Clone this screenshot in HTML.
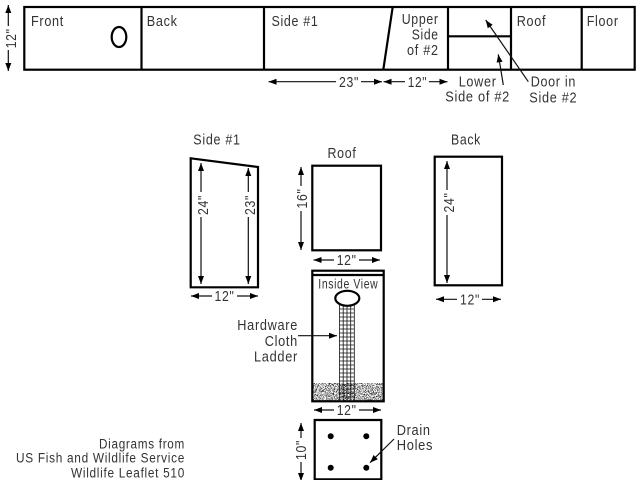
<!DOCTYPE html>
<html><head><meta charset="utf-8"><style>
html,body{margin:0;padding:0;background:#fff;width:640px;height:480px;overflow:hidden}
svg{display:block;filter:blur(.3px)}
text{font-family:"Liberation Sans",sans-serif;font-size:14.5px;fill:#333;letter-spacing:.8px}
.s{font-size:13.5px}
.b{fill:none;stroke:#000;stroke-width:2.2}
.a{fill:none;stroke:#111;stroke-width:1.2;marker-end:url(#h)}
.g{stroke:#111;stroke-width:.8;fill:none}
</style></head><body>
<svg width="640" height="480" viewBox="0 0 640 480" xmlns="http://www.w3.org/2000/svg">
<defs>
<marker id="h" markerUnits="userSpaceOnUse" markerWidth="9" markerHeight="7" refX="8" refY="3.5" orient="auto"><path d="M0,0.5L8,3.5L0,6.5Z" fill="#000"/></marker>
<filter id="nz" x="0" y="0" width="100%" height="100%"><feTurbulence type="fractalNoise" baseFrequency="1.1" numOctaves="2" seed="4"/><feColorMatrix values="0 0 0 0 0  0 0 0 0 0  0 0 0 0 0  3.4 3.4 0 0 -3.2"/></filter>
</defs>
<!-- top strip -->
<rect class="b" x="24.3" y="7" width="610.4" height="62.7"/>
<path class="b" d="M141.5,7V69.7M264,7V69.7M392.7,7L383.3,69.7M448,7V69.7M511,7V69.7M581.7,7V69.7M448,36.3H511"/>
<ellipse class="b" cx="119" cy="37" rx="7.3" ry="10"/>
<text x="31" y="26" textLength="33" lengthAdjust="spacingAndGlyphs">Front</text>
<text x="146.7" y="26" textLength="31" lengthAdjust="spacingAndGlyphs">Back</text>
<text x="271.5" y="26" textLength="47" lengthAdjust="spacingAndGlyphs">Side #1</text>
<text x="401.7" y="24" textLength="37" lengthAdjust="spacingAndGlyphs">Upper</text>
<text x="411.7" y="39.7" textLength="27" lengthAdjust="spacingAndGlyphs">Side</text>
<text x="407" y="55" textLength="31.7" lengthAdjust="spacingAndGlyphs">of #2</text>
<text x="516.7" y="26" textLength="29.5" lengthAdjust="spacingAndGlyphs">Roof</text>
<text x="586.7" y="26" textLength="32" lengthAdjust="spacingAndGlyphs">Floor</text>
<!-- left 12 -->
<path class="a" d="M8.3,26V5"/><path class="a" d="M8.3,50V71"/>
<text transform="translate(16,38.3) rotate(-90)" text-anchor="middle" textLength="20" lengthAdjust="spacingAndGlyphs">12"</text>
<!-- 23 12 -->
<path class="a" d="M336,81.7H268.5"/><path class="a" d="M361,81.7H382"/>
<path class="a" d="M405,81.7H383.5"/><path class="a" d="M429,81.7H447.5"/>
<text x="339" y="87" textLength="20" lengthAdjust="spacingAndGlyphs">23"</text>
<text x="407.7" y="87" textLength="19.5" lengthAdjust="spacingAndGlyphs">12"</text>
<text x="458.7" y="86.3" textLength="38" lengthAdjust="spacingAndGlyphs">Lower</text>
<text x="445.3" y="101.7" textLength="64.7" lengthAdjust="spacingAndGlyphs">Side of #2</text>
<path class="a" d="M503.3,85L498.3,54.3"/>
<path class="a" d="M528.3,81.7L485.7,20"/>
<text x="530.7" y="86.7" textLength="45.3" lengthAdjust="spacingAndGlyphs">Door in</text>
<text x="529.3" y="102.7" textLength="48" lengthAdjust="spacingAndGlyphs">Side #2</text>
<!-- side 1 -->
<text x="193.3" y="144.3" textLength="47.4" lengthAdjust="spacingAndGlyphs">Side #1</text>
<path class="b" d="M190.7,158.3L258,167V287.3H190.7Z"/>
<path class="a" d="M201,192V163"/><path class="a" d="M201,217V284"/>
<text transform="translate(208,205) rotate(-90)" text-anchor="middle" textLength="20" lengthAdjust="spacingAndGlyphs">24"</text>
<path class="a" d="M248.3,192V168"/><path class="a" d="M248.3,217V284"/>
<text transform="translate(255,205) rotate(-90)" text-anchor="middle" textLength="20" lengthAdjust="spacingAndGlyphs">23"</text>
<path class="a" d="M212,296H191"/><path class="a" d="M237,296H258"/>
<text x="224.5" y="301" text-anchor="middle" textLength="20" lengthAdjust="spacingAndGlyphs">12"</text>
<!-- roof -->
<text x="342" y="158" text-anchor="middle" textLength="29" lengthAdjust="spacingAndGlyphs">Roof</text>
<rect class="b" x="312.3" y="165.7" width="68.7" height="84.6"/>
<path class="a" d="M301,186V167"/><path class="a" d="M301,211V250"/>
<text transform="translate(307,198.5) rotate(-90)" text-anchor="middle" textLength="20" lengthAdjust="spacingAndGlyphs">16"</text>
<path class="a" d="M334,260H313.5"/><path class="a" d="M359,260H380"/>
<text x="346.7" y="265" text-anchor="middle" textLength="20" lengthAdjust="spacingAndGlyphs">12"</text>
<!-- inside -->
<rect x="313" y="383" width="70" height="17.5" fill="#fff" filter="url(#nz)"/>
<rect class="b" x="312.3" y="270.7" width="71.4" height="130.6"/>
<path class="b" d="M312.3,275H383.7"/>
<text x="348.3" y="288.7" text-anchor="middle" class="s" textLength="60" lengthAdjust="spacingAndGlyphs">Inside View</text>
<path class="g" d="M339.5,305V401M343.2,305V401M347,305V401M350.7,305V401M354.3,305V401M339.5,309H354.3M339.5,313H354.3M339.5,317H354.3M339.5,321H354.3M339.5,325H354.3M339.5,329H354.3M339.5,333H354.3M339.5,337H354.3M339.5,341H354.3M339.5,345H354.3M339.5,349H354.3M339.5,353H354.3M339.5,357H354.3M339.5,361H354.3M339.5,365H354.3M339.5,369H354.3M339.5,373H354.3M339.5,377H354.3M339.5,381H354.3M339.5,385H354.3M339.5,389H354.3M339.5,393H354.3M339.5,397H354.3"/>
<ellipse cx="347.3" cy="298.3" rx="12" ry="7.5" fill="#fff" stroke="#000" stroke-width="2.2"/>
<text x="298" y="330" text-anchor="end" textLength="60.7" lengthAdjust="spacingAndGlyphs">Hardware</text>
<text x="298" y="346" text-anchor="end" textLength="33.3" lengthAdjust="spacingAndGlyphs">Cloth</text>
<text x="298" y="361.7" text-anchor="end" textLength="44" lengthAdjust="spacingAndGlyphs">Ladder</text>
<path class="a" d="M298,335.7H337"/>
<path class="a" d="M334,410H314"/><path class="a" d="M359,410H381"/>
<text x="346.7" y="415" text-anchor="middle" textLength="20" lengthAdjust="spacingAndGlyphs">12"</text>
<!-- floor -->
<path class="b" d="M314.7,481V420H381.3V481"/>
<path class="b" d="M314.7,479.4H381.3"/>
<circle cx="330.7" cy="436.3" r="3" fill="#000"/><circle cx="366.3" cy="436.3" r="3" fill="#000"/><circle cx="330.7" cy="467.7" r="3" fill="#000"/><circle cx="366.3" cy="467.7" r="3" fill="#000"/>
<path class="a" d="M394,439L370,462.7"/>
<text x="396.7" y="435" textLength="34" lengthAdjust="spacingAndGlyphs">Drain</text>
<text x="396.7" y="450" textLength="36.5" lengthAdjust="spacingAndGlyphs">Holes</text>
<path class="a" d="M301,438V423"/><path class="a" d="M301,462V481"/>
<text transform="translate(306,450) rotate(-90)" text-anchor="middle" textLength="20" lengthAdjust="spacingAndGlyphs">10"</text>
<!-- back -->
<text x="466" y="144.3" text-anchor="middle" textLength="30" lengthAdjust="spacingAndGlyphs">Back</text>
<rect class="b" x="434.7" y="156.7" width="67.3" height="128.6"/>
<path class="a" d="M447,190V161"/><path class="a" d="M447,215V283"/>
<text transform="translate(454,202.5) rotate(-90)" text-anchor="middle" textLength="20" lengthAdjust="spacingAndGlyphs">24"</text>
<path class="a" d="M457,299.3H436"/><path class="a" d="M482,299.3H501"/>
<text x="470" y="304.3" text-anchor="middle" textLength="20" lengthAdjust="spacingAndGlyphs">12"</text>
<!-- credit -->
<text x="99" y="448.3" class="s" textLength="86" lengthAdjust="spacingAndGlyphs">Diagrams from</text>
<text x="16" y="462.7" class="s" textLength="169" lengthAdjust="spacingAndGlyphs">US Fish and Wildlife Service</text>
<text x="71" y="477.3" class="s" textLength="114" lengthAdjust="spacingAndGlyphs">Wildlife Leaflet 510</text>
</svg>
</body></html>
